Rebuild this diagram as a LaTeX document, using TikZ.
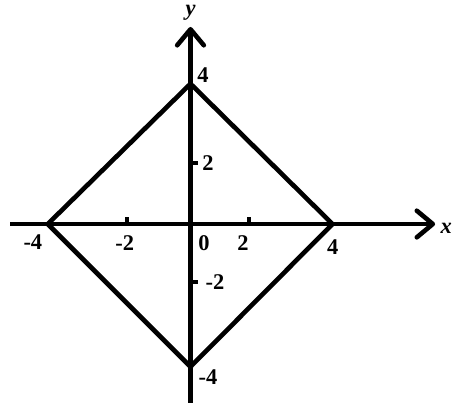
\documentclass[tikz,border=0pt]{standalone}
\usepackage{fontspec}
\setmainfont{Liberation Serif}
\usetikzlibrary{arrows.meta}
\begin{document}
\begin{tikzpicture}[
  axisline/.style={line width=3.7pt, -{Straight Barb[length=0.45cm,width=0.75cm,line width=3.7pt,round]}},
  edge/.style={line width=3.7pt, line join=miter},
  tickmark/.style={line width=3.4pt},
  lbl/.style={font=\fontsize{18}{21}\selectfont\bfseries, inner sep=0pt}
]
\useasboundingbox (-5.366,-5.014) rectangle (7.394,6.31);
% axes
\coordinate (xs) at (-5.08,0);
\coordinate (xe) at (6.89,0);
\coordinate (ys) at (0,-5.1);
\coordinate (ye) at (0,5.55);
\draw[axisline] (xs) -- (xe);
\draw[axisline] (ys) -- (ye);
% diamond
\coordinate (R) at (4,0);
\coordinate (T) at (0,3.95);
\coordinate (L) at (-4.02,0);
\coordinate (B) at (0,-4.02);
\draw[edge] (R) -- (T) -- (L) -- (B) -- cycle;
% ticks
\coordinate (tx1) at (-1.79,0);
\coordinate (tx1e) at (-1.79,0.2);
\coordinate (tx2) at (1.65,0);
\coordinate (tx2e) at (1.65,0.2);
\coordinate (ty1) at (0,1.72);
\coordinate (ty1e) at (0.2,1.72);
\coordinate (ty2) at (0,-1.63);
\coordinate (ty2e) at (0.2,-1.63);
\draw[tickmark] (tx1) -- (tx1e);
\draw[tickmark] (tx2) -- (tx2e);
\draw[tickmark] (ty1) -- (ty1e);
\draw[tickmark] (ty2) -- (ty2e);
% labels
\node[lbl] (lx) at (7.2,-0.11) {\itshape x};
\node[lbl] (ly) at (0.0,5.94) {\itshape y};
\node[lbl] (xm4) at (-4.44,-0.52) {-4};
\node[lbl] (xm2) at (-1.85,-0.55) {-2};
\node[lbl] (o) at (0.38,-0.55) {0};
\node[lbl] (x2) at (1.48,-0.55) {2};
\node[lbl] (x4) at (4.01,-0.65) {4};
\node[lbl] (y4) at (0.35,4.2) {4};
\node[lbl] (y2) at (0.49,1.72) {2};
\node[lbl] (ym2) at (0.69,-1.63) {-2};
\node[lbl] (ym4) at (0.49,-4.31) {-4};
\end{tikzpicture}
\end{document}
